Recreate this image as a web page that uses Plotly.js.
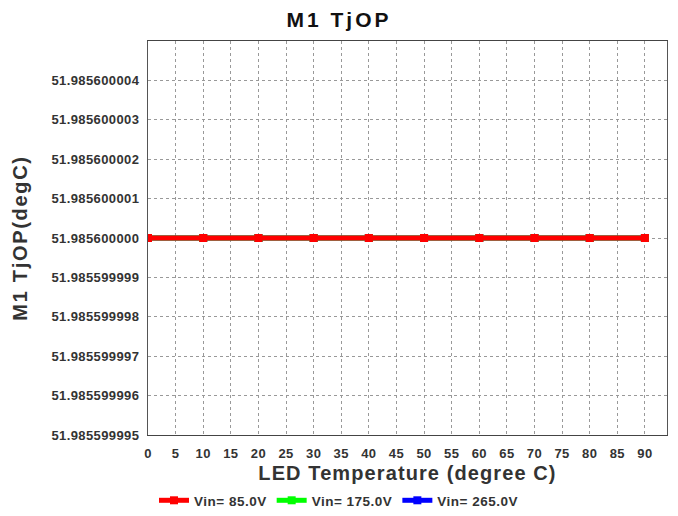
<!DOCTYPE html>
<html>
<head>
<meta charset="utf-8">
<script src="https://cdn.plot.ly/plotly-3.0.1.min.js"></script>
<style>
html,body{margin:0;padding:0;background:#fff;}
#chart{width:678px;height:516px;}
.gtitle{letter-spacing:3px;}
.xtitle{letter-spacing:1.1px;}
.ytitle{letter-spacing:1.7px;}
.xtick text,.ytick text{letter-spacing:0.4px;}
.legendtext{letter-spacing:0.5px;}
</style>
</head>
<body>
<div id="chart"></div>
<script>
const temps = [0, 10, 20, 30, 40, 50, 60, 70, 80, 90];
const vin85 = [51.9856, 51.9856, 51.9856, 51.9856, 51.9856, 51.9856, 51.9856, 51.9856, 51.9856, 51.9856];
const vin175 = [51.9856, 51.9856, 51.9856, 51.9856, 51.9856, 51.9856, 51.9856, 51.9856, 51.9856, 51.9856];
const vin265 = [51.9856, 51.9856, 51.9856, 51.9856, 51.9856, 51.9856, 51.9856, 51.9856, 51.9856, 51.9856];
const seriesNames = ["Vin= 85.0V", "Vin= 175.0V", "Vin= 265.0V"];
const yTickVals = [51.985599995, 51.985599996, 51.985599997, 51.985599998, 51.985599999, 51.9856, 51.985600001, 51.985600002, 51.985600003, 51.985600004];
const yTickText = ["51.985599995", "51.985599996", "51.985599997", "51.985599998", "51.985599999", "51.985600000", "51.985600001", "51.985600002", "51.985600003", "51.985600004"];

const font = "Liberation Sans, Arial, sans-serif";
function tr(y, name, color, rank) {
  return {x: temps, y: y, name: name, type: 'scatter', mode: 'lines+markers', legendrank: rank,
    line: {color: color, width: 5}, marker: {color: color, symbol: 'square', size: 8}};
}
// blue drawn first, red on top; legend keeps red, green, blue order
const data = [
  tr(vin265, seriesNames[2], '#0000ff', 3),
  tr(vin175, seriesNames[1], '#00ff00', 2),
  tr(vin85, seriesNames[0], '#ff0000', 1)
];

const layout = {
  width: 678, height: 516,
  margin: {l: 148, r: 11, t: 41, b: 81},
  paper_bgcolor: '#fff', plot_bgcolor: '#fff',
  font: {family: font, color: '#333', weight: 'bold'},
  title: {text: 'M1 TjOP', font: {family: font, size: 21, color: '#111', weight: 'bold'},
    x: 0.5, xanchor: 'center', xref: 'container', y: 0.962, yanchor: 'middle'},
  xaxis: {
    range: [0, 94], tickmode: 'linear', tick0: 0, dtick: 5,
    showgrid: true, gridcolor: '#999', griddash: 'dot', gridwidth: 1,
    showline: true, linecolor: '#444', linewidth: 1, mirror: true, zeroline: false,
    ticks: '', ticklabelstandoff: 6, tickfont: {family: font, size: 13, color: '#333', weight: 'bold'},
    title: {text: 'LED Temperature (degree C)', font: {family: font, size: 20, color: '#333', weight: 'bold'}, standoff: 6}
  },
  yaxis: {
    range: [51.985599995, 51.985600005], tickmode: 'array', tickvals: yTickVals, ticktext: yTickText,
    showgrid: true, gridcolor: '#999', griddash: 'dot', gridwidth: 1,
    showline: true, linecolor: '#555', linewidth: 1, mirror: true, zeroline: false,
    ticks: '', ticklabelstandoff: 5, tickfont: {family: font, size: 13, color: '#333', weight: 'bold'},
    title: {text: 'M1 TjOP(degC)', font: {family: font, size: 20, color: '#333', weight: 'bold'}, standoff: 18}
  },
  showlegend: true,
  legend: {orientation: 'h', x: 0.5, xanchor: 'center', xref: 'container', y: 0.03, yanchor: 'middle', yref: 'container',
    font: {family: font, size: 13.5, color: '#333', weight: 'bold'}, traceorder: 'normal', itemwidth: 30, tracegroupgap: 0}
};
Plotly.newPlot('chart', data, layout, {displayModeBar: false, staticPlot: true});
</script>
</body>
</html>
